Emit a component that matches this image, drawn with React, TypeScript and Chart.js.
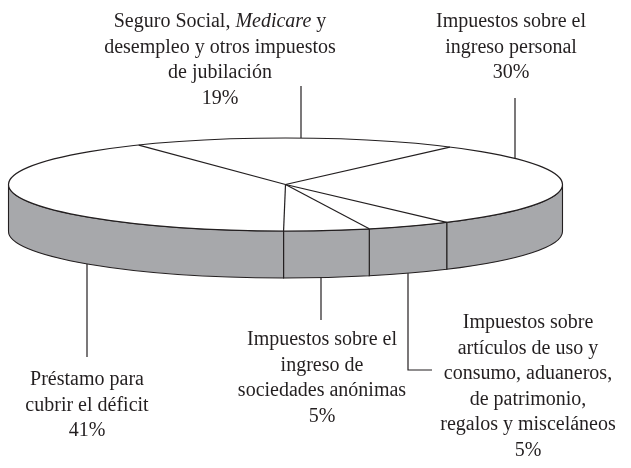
import React, { useEffect, useRef } from 'react';
import { Chart, registerables } from 'chart.js';

Chart.register(...registerables);

// ---- data ----
const categories = [
  'Seguro Social, Medicare y desempleo y otros impuestos de jubilación',
  'Impuestos sobre el ingreso personal',
  'Impuestos sobre artículos de uso y consumo, aduaneros, de patrimonio, regalos y misceláneos',
  'Impuestos sobre el ingreso de sociedades anónimas',
  'Préstamo para cubrir el déficit',
];
const values = [19, 30, 5, 5, 41];
const labelLines = [
  ['Seguro Social, *Medicare* y', 'desempleo y otros impuestos', 'de jubilación'],
  ['Impuestos sobre el', 'ingreso personal'],
  ['Impuestos sobre', 'artículos de uso y', 'consumo, aduaneros,', 'de patrimonio,', 'regalos y misceláneos'],
  ['Impuestos sobre el', 'ingreso de', 'sociedades anónimas'],
  ['Préstamo para', 'cubrir el déficit'],
];

// ---- layout / style ----
const W = 631;
const H = 468;
const PIE = { cx: 285.5, cy: 184.5, rx: 277, ry: 46.5, depth: 47 };
const ROTATION = -32;
const LABEL_POS = [
  { x: 220, y: 22 },
  { x: 511, y: 22 },
  { x: 528, y: 323 },
  { x: 322, y: 340 },
  { x: 87, y: 380 },
];
const LEADERS = [
  { x: 301, y: 86, side: 'top', elbow: 0 },
  { x: 515, y: 98, side: 'top', elbow: 0 },
  { x: 408, y: 370, side: 'bottom', elbow: 432 },
  { x: 321, y: 320, side: 'bottom', elbow: 0 },
  { x: 87, y: 357, side: 'bottom', elbow: 0 },
];
const FONT_SIZE = 20;
const LINE_H = 25.5;
const FONT_FAMILY = '"Liberation Serif", "DejaVu Serif", serif';
const INK = '#231f20';
const WALL = '#a7a8ab';

function norm(a: number) {
  const t = Math.PI * 2;
  return ((a % t) + t) % t;
}

function drawRichLine(ctx: CanvasRenderingContext2D, text: string, cx: number, y: number) {
  const parts = text.split('*').map((t, i) => ({ t, italic: i % 2 === 1 })).filter((p) => p.t.length);
  const fontFor = (it: boolean) => `${it ? 'italic ' : ''}${FONT_SIZE}px ${FONT_FAMILY}`;
  let total = 0;
  const widths = parts.map((p) => {
    ctx.font = fontFor(p.italic);
    const w = ctx.measureText(p.t).width;
    total += w;
    return w;
  });
  let x = cx - total / 2;
  parts.forEach((p, i) => {
    ctx.font = fontFor(p.italic);
    ctx.fillText(p.t, x, y);
    x += widths[i];
  });
}

const pie3d = {
  id: 'pie3d',
  beforeDatasetsDraw(chart: any) {
    const ctx: CanvasRenderingContext2D = chart.ctx;
    const meta = chart.getDatasetMeta(0);
    const { cx, cy, rx, ry, depth } = PIE;
    ctx.save();
    ctx.lineWidth = 1.1;
    ctx.strokeStyle = INK;
    ctx.fillStyle = WALL;
    meta.data.forEach((arc: any) => {
      const p = arc.getProps(['startAngle', 'endAngle'], true);
      let s = norm(p.startAngle);
      let e = s + (p.endAngle - p.startAngle);
      // visible front part: angles within [0, PI] (mod 2PI)
      const ranges: [number, number][] = [];
      for (const base of [-2 * Math.PI, 0, 2 * Math.PI]) {
        const a = Math.max(s, base);
        const b = Math.min(e, base + Math.PI);
        if (b > a) ranges.push([a, b]);
      }
      ranges.forEach(([a, b]) => {
        ctx.beginPath();
        ctx.ellipse(cx, cy, rx, ry, 0, a, b, false);
        ctx.lineTo(cx + rx * Math.cos(b), cy + depth + ry * Math.sin(b));
        ctx.ellipse(cx, cy + depth, rx, ry, 0, b, a, true);
        ctx.closePath();
        ctx.fill();
        ctx.stroke();
      });
    });
    ctx.restore();
    // squash the library's circle into the top ellipse
    const first = meta.data[0];
    if (first) {
      const q = first.getProps(['x', 'y', 'outerRadius'], true);
      ctx.save();
      ctx.translate(cx, cy);
      ctx.scale(rx / q.outerRadius, ry / q.outerRadius);
      ctx.translate(-q.x, -q.y);
    } else {
      ctx.save();
    }
  },
  afterDatasetsDraw(chart: any) {
    const ctx: CanvasRenderingContext2D = chart.ctx;
    ctx.restore();
    const meta = chart.getDatasetMeta(0);
    const { cx, cy, rx, ry } = PIE;
    ctx.save();
    ctx.lineWidth = 1.2;
    ctx.strokeStyle = INK;
    ctx.beginPath();
    ctx.ellipse(cx, cy, rx, ry, 0, 0, Math.PI * 2);
    ctx.stroke();
    meta.data.forEach((arc: any) => {
      const p = arc.getProps(['startAngle'], true);
      ctx.beginPath();
      ctx.moveTo(cx, cy);
      ctx.lineTo(cx + rx * Math.cos(p.startAngle), cy + ry * Math.sin(p.startAngle));
      ctx.stroke();
    });
    ctx.restore();
  },
  afterDraw(chart: any) {
    const ctx: CanvasRenderingContext2D = chart.ctx;
    const { cx, cy, rx, ry, depth } = PIE;
    ctx.save();
    ctx.strokeStyle = INK;
    ctx.lineWidth = 1.2;
    LEADERS.forEach((l) => {
      const k = Math.sqrt(Math.max(0, 1 - ((l.x - cx) / rx) ** 2));
      const yEdge = l.side === 'top' ? cy - ry * k : cy + depth + ry * k;
      ctx.beginPath();
      ctx.moveTo(l.x, yEdge);
      ctx.lineTo(l.x, l.y);
      if (l.elbow) ctx.lineTo(l.elbow, l.y);
      ctx.stroke();
    });
    ctx.fillStyle = INK;
    ctx.textBaseline = 'middle';
    labelLines.forEach((lines, i) => {
      const pos = LABEL_POS[i];
      const all = [...lines, `${values[i]}%`];
      all.forEach((t, j) => drawRichLine(ctx, t, pos.x, pos.y + j * LINE_H));
    });
    ctx.restore();
  },
};

export default function App() {
  const ref = useRef<HTMLCanvasElement | null>(null);
  useEffect(() => {
    if (!ref.current) return;
    const chart = new Chart(ref.current, {
      type: 'pie',
      data: {
        labels: categories,
        datasets: [
          {
            data: values,
            backgroundColor: '#ffffff',
            borderWidth: 0,
          },
        ],
      },
      options: {
        animation: false,
        responsive: true,
        maintainAspectRatio: false,
        rotation: ROTATION,
        events: [],
        layout: { padding: 0 },
        plugins: { legend: { display: false }, tooltip: { enabled: false } },
      },
      plugins: [pie3d],
    });
    return () => chart.destroy();
  }, []);
  return (
    <div style={{ position: 'fixed', left: 0, top: 0, width: W, height: H, background: '#fff' }}>
      <canvas ref={ref} />
    </div>
  );
}
